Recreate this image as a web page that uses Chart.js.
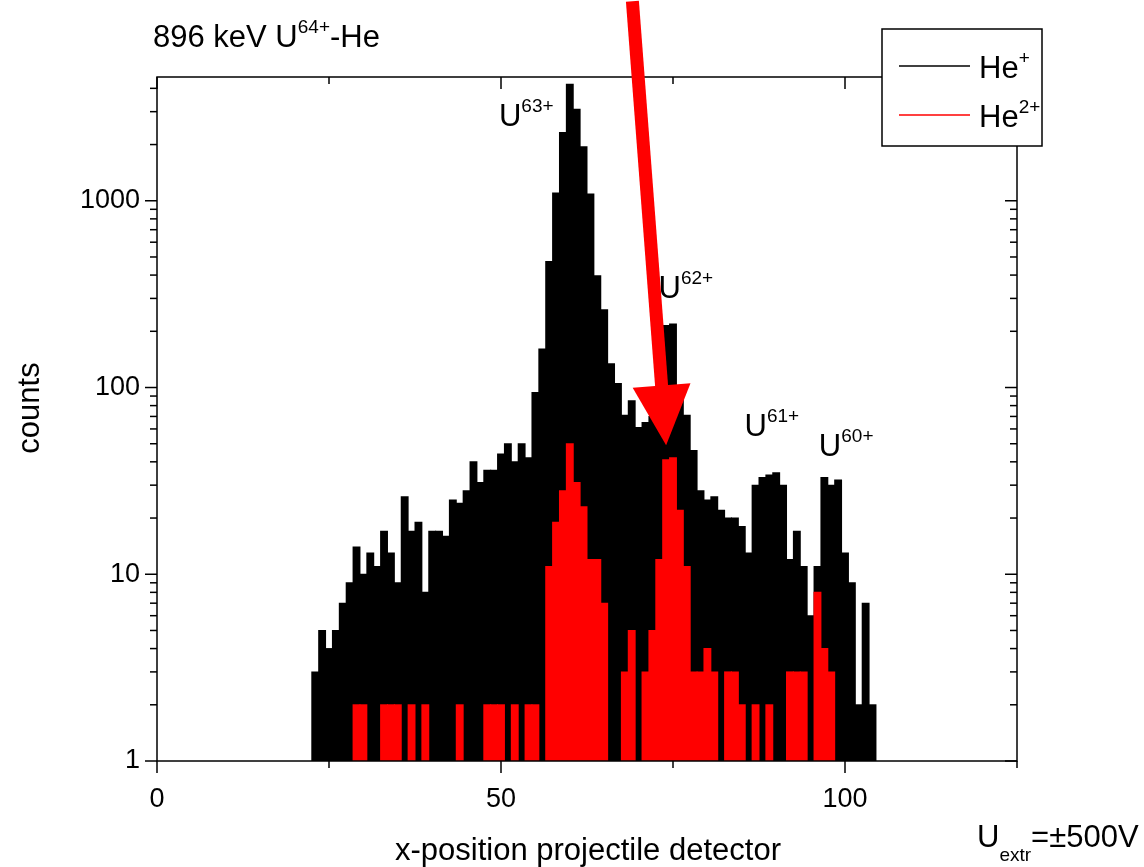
<!DOCTYPE html>
<html>
<head>
<meta charset="utf-8">
<script src="https://cdn.jsdelivr.net/npm/chart.js@4.4.0/dist/chart.umd.min.js"></script>
<style>
  html, body { margin: 0; padding: 0; background: #fff; }
  canvas { display: block; }
</style>
</head>
<body>
<canvas id="chart" width="1144" height="867"></canvas>
<script>
const FONT = '"Liberation Sans", Arial, Helvetica, sans-serif';

// x-position bins (channel centres)
const BIN_X = [
    23, 24, 25, 26, 27, 28, 29, 30, 31, 32, 33, 34, 35, 36, 37, 38, 39, 40, 41, 42,
    43, 44, 45, 46, 47, 48, 49, 50, 51, 52, 53, 54, 55, 56, 57, 58, 59, 60, 61, 62,
    63, 64, 65, 66, 67, 68, 69, 70, 71, 72, 73, 74, 75, 76, 77, 78, 79, 80, 81, 82,
    83, 84, 85, 86, 87, 88, 89, 90, 91, 92, 93, 94, 95, 96, 97, 98, 99, 100, 101, 102,
    103, 104
];
// He+ counts
const COUNTS_HE1 = [
    3, 5, 4, 5, 7, 9, 14, 10, 13, 11, 17, 13, 9, 26, 17, 19, 8, 17, 17, 16,
    25, 24, 28, 40, 31, 36, 36, 44, 50, 40, 50, 42, 94, 161, 473, 1099, 2318, 4207, 3091, 1944,
    1086, 397, 261, 134, 105, 71, 85, 61, 65, 70, 75, 215, 219, 90, 71, 46, 28, 25, 26, 22,
    20, 20, 18, 13, 30, 33, 34, 35, 30, 12, 17, 11, 6, 11, 33, 30, 32, 13, 9, 2,
    7, 2
];
// He2+ counts (null = empty channel)
const COUNTS_HE2 = [
    null, null, null, null, null, null, 2, 2, null, null, 2, 2, 2, null, 2, null, 2, null, null, null,
    null, 2, null, null, null, 2, 2, 2, null, 2, null, 2, 2, null, 11, 19, 28, 50, 31, 23,
    12, 12, 7, null, null, 3, 5, null, 3, 5, 12, 41, 42, 22, 11, 3, 3, 4, 3, null,
    3, 3, 2, null, 2, null, 2, null, null, 3, 3, 3, null, 8, 4, 3, null, null, null, null,
    null, null
];

const X_LABELS = [0, 50, 100];
const Y_LABELS = [1, 10, 100, 1000];

const PEAK_LABELS = [
    {ion: '63+', x: 49.7, y: 2520},
    {ion: '62+', x: 72.9, y: 300},
    {ion: '61+', x: 85.4, y: 55},
    {ion: '60+', x: 96.2, y: 43},
];
const ARROW_TAIL = {x: 69.1, y: 11700};
const ARROW_TIP = {x: 74.0, y: 49};

function toPoints(values) {
    return BIN_X.map((x, i) => ({x: x, y: values[i]}));
}

// text with a raised / lowered small part
function richText(ctx, parts, x, y) {
    let cx = x;
    parts.forEach(p => {
        ctx.font = p.size + 'px ' + FONT;
        ctx.fillText(p.t, cx, y + (p.dy || 0));
        cx += ctx.measureText(p.t).width;
    });
}

const originLook = {
    id: 'originLook',
    afterDraw(chart) {
        const {ctx, chartArea: a, scales: {x, y}} = chart;
        const line = (x1, y1, x2, y2) => {
            ctx.beginPath();
            ctx.moveTo(x1, y1);
            ctx.lineTo(x2, y2);
            ctx.stroke();
        };
        ctx.save();
        ctx.strokeStyle = '#000';
        ctx.fillStyle = '#000';
        ctx.lineWidth = 1.5;
        ctx.strokeRect(a.left, a.top, a.right - a.left, a.bottom - a.top);

        // x ticks: out on bottom, in on top
        for (let v = 0; v <= 125; v += 25) {
            const px = x.getPixelForValue(v);
            const len = X_LABELS.includes(v) ? 12 : 7;
            line(px, a.bottom, px, a.bottom + len);
            line(px, a.top, px, a.top + len);
        }
        // y ticks: out on left, in on right
        for (let d = 1; d <= 1000; d *= 10) {
            for (let m = 1; m <= 9; m++) {
                const v = d * m;
                if (v > y.max) break;
                const py = y.getPixelForValue(v);
                const len = m === 1 ? 12 : 7;
                line(a.left - len, py, a.left, py);
                line(a.right - len, py, a.right, py);
            }
        }

        ctx.textBaseline = 'alphabetic';
        ctx.textAlign = 'left';

        // peak labels
        PEAK_LABELS.forEach(p => {
            richText(ctx, [
                {t: 'U', size: 31},
                {t: p.ion, size: 19, dy: -14},
            ], x.getPixelForValue(p.x), y.getPixelForValue(p.y));
        });

        // red arrow
        const tx = x.getPixelForValue(ARROW_TAIL.x), ty = y.getPixelForValue(ARROW_TAIL.y);
        const hx = x.getPixelForValue(ARROW_TIP.x), hy = y.getPixelForValue(ARROW_TIP.y);
        const len = Math.hypot(hx - tx, hy - ty);
        const ux = (hx - tx) / len, uy = (hy - ty) / len;
        const bx = hx - ux * 60, by = hy - uy * 60;
        ctx.fillStyle = '#ff0000';
        ctx.strokeStyle = '#ff0000';
        ctx.lineWidth = 13;
        line(tx, ty, bx + ux * 2, by + uy * 2);
        ctx.beginPath();
        ctx.moveTo(hx, hy);
        ctx.lineTo(bx - uy * 29, by + ux * 29);
        ctx.lineTo(bx + uy * 29, by - ux * 29);
        ctx.closePath();
        ctx.fill();

        // title and notes
        ctx.fillStyle = '#000';
        richText(ctx, [
            {t: '896 keV U', size: 31},
            {t: '64+', size: 19, dy: -14},
            {t: '-He', size: 31},
        ], 153, 47);
        richText(ctx, [
            {t: 'U', size: 31},
            {t: 'extr', size: 19, dy: 14},
            {t: '=\u00b1500V', size: 31},
        ], 977, 847);

        ctx.font = '31px ' + FONT;
        ctx.textAlign = 'center';
        ctx.fillText('x-position projectile detector', 588, 860);
        ctx.save();
        ctx.translate(39, 408);
        ctx.rotate(-Math.PI / 2);
        ctx.fillText('counts', 0, 0);
        ctx.restore();

        // legend
        ctx.textAlign = 'left';
        const lx = 882, ly = 29, lw = 160, lh = 117;
        ctx.fillStyle = '#fff';
        ctx.fillRect(lx, ly, lw, lh);
        ctx.strokeStyle = '#000';
        ctx.lineWidth = 1.5;
        ctx.strokeRect(lx, ly, lw, lh);
        chart.data.datasets.forEach((ds, i) => {
            const rowY = 66 + i * 49;
            ctx.strokeStyle = ds.backgroundColor;
            ctx.lineWidth = 1.5;
            line(899, rowY, 970, rowY);
            ctx.fillStyle = '#000';
            richText(ctx, [
                {t: 'He', size: 31},
                {t: ds.label.replace('He', ''), size: 19, dy: -14},
            ], 979, rowY + 12);
        });
        ctx.restore();
    }
};

new Chart(document.getElementById('chart'), {
    type: 'bar',
    data: {
        datasets: [
            {
                label: 'He+',
                data: toPoints(COUNTS_HE1),
                backgroundColor: '#000000',
                grouped: false,
                order: 2,
            },
            {
                label: 'He2+',
                data: toPoints(COUNTS_HE2),
                backgroundColor: '#ff0000',
                grouped: false,
                order: 1,
            }
        ]
    },
    options: {
        responsive: false,
        animation: false,
        devicePixelRatio: 1,
        layout: {padding: {top: 77, right: 127, left: 0, bottom: 0}},
        plugins: {
            legend: {display: false},
            tooltip: {enabled: false},
        },
        datasets: {
            bar: {barPercentage: 1, categoryPercentage: 1, borderWidth: 0, inflateAmount: 0.5}
        },
        scales: {
            x: {
                type: 'linear',
                min: 0,
                max: 125,
                offset: false,
                grid: {display: false, drawTicks: false},
                border: {display: false},
                ticks: {
                    stepSize: 25,
                    autoSkip: false,
                    maxRotation: 0,
                    padding: 22,
                    color: '#000',
                    font: {family: FONT, size: 27},
                    callback: v => X_LABELS.includes(v) ? String(v) : '',
                },
                afterFit: s => { s.height = 106; },
            },
            y: {
                type: 'logarithmic',
                min: 1,
                max: 4600,
                grid: {display: false, drawTicks: false},
                border: {display: false},
                ticks: {
                    autoSkip: false,
                    padding: 17,
                    color: '#000',
                    font: {family: FONT, size: 27},
                    callback: v => Y_LABELS.includes(v) ? String(v) : '',
                },
                afterFit: s => { s.width = 157; },
            }
        }
    },
    plugins: [originLook]
});
</script>
</body>
</html>
